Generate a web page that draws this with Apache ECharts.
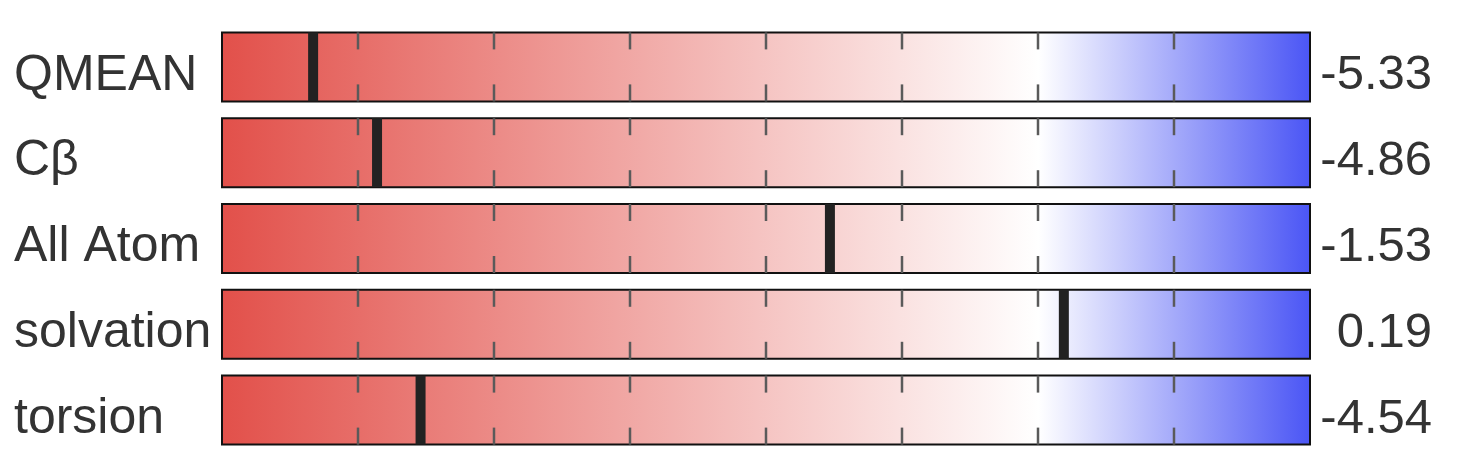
<!DOCTYPE html>
<html><head><meta charset="utf-8">
<script src="https://cdn.jsdelivr.net/npm/echarts@6/dist/echarts.min.js"></script>
<style>html,body{margin:0;padding:0;background:#fff}#c{width:1468px;height:474px}</style>
</head><body><div id="c"></div>
<script>
const categories = ['QMEAN', 'Cβ', 'All Atom', 'solvation', 'torsion'];
const scores = [-5.33, -4.86, -1.53, 0.19, -4.54];
const scoreLabels = ['-5.33', '-4.86', '-1.53', '0.19', '-4.54'];
const axisMin = -6, axisMax = 2, axisStep = 1;
const gridValues = [-5, -4, -3, -2, -1, 0, 1];

const chart = echarts.init(document.getElementById('c'));
const BAR_H = 69;
const FONT = 'Liberation Sans, Arial, Helvetica, sans-serif';

chart.setOption({
  animation: false,
  grid: { left: 222, right: 158, top: 24, height: 429 },
  xAxis: { type: 'value', min: axisMin, max: axisMax, interval: axisStep, show: false },
  yAxis: { type: 'category', data: categories, inverse: true, show: false },
  series: [
    {
      type: 'custom',
      data: categories.map((c, i) => [i]),
      renderItem: function (params, api) {
        const i = api.value(0);
        const p0 = api.coord([axisMin, i]);
        const p1 = api.coord([axisMax, i]);
        const y0 = p0[1] - BAR_H / 2;
        const children = [{
          type: 'rect',
          shape: { x: p0[0], y: y0, width: p1[0] - p0[0], height: BAR_H },
          style: {
            fill: new echarts.graphic.LinearGradient(0, 0, 1, 0, [
              { offset: 0, color: '#e2504a' },
              { offset: (0 - axisMin) / (axisMax - axisMin), color: '#ffffff' },
              { offset: 1, color: '#4a55f5' }
            ]),
            stroke: '#111', lineWidth: 2
          }
        }];
        gridValues.forEach(v => {
          const x = api.coord([v, i])[0];
          children.push({ type: 'line', shape: { x1: x, y1: y0, x2: x, y2: y0 + 17 },
            style: { stroke: '#5a5a5a', lineWidth: 2.5 } });
          children.push({ type: 'line', shape: { x1: x, y1: y0 + BAR_H - 17, x2: x, y2: y0 + BAR_H },
            style: { stroke: '#5a5a5a', lineWidth: 2.5 } });
        });
        children.push({ type: 'text', x: p0[0] - 208, y: p0[1] + 9,
          style: { text: categories[i], fill: '#333', fontSize: 50, fontFamily: FONT,
            align: 'left', verticalAlign: 'middle' } });
        children.push({ type: 'text', x: p1[0] + 122, y: p1[1] + 9,
          style: { text: scoreLabels[i], fill: '#333', fontSize: 49, fontFamily: FONT,
            align: 'right', verticalAlign: 'middle' } });
        return { type: 'group', children: children };
      }
    },
    {
      type: 'custom',
      data: scores.map((v, i) => [v, i]),
      renderItem: function (params, api) {
        const p = api.coord([api.value(0), api.value(1)]);
        return { type: 'rect',
          shape: { x: p[0] - 5, y: p[1] - BAR_H / 2, width: 10, height: BAR_H },
          style: { fill: '#222' } };
      }
    }
  ]
});
</script></body></html>
